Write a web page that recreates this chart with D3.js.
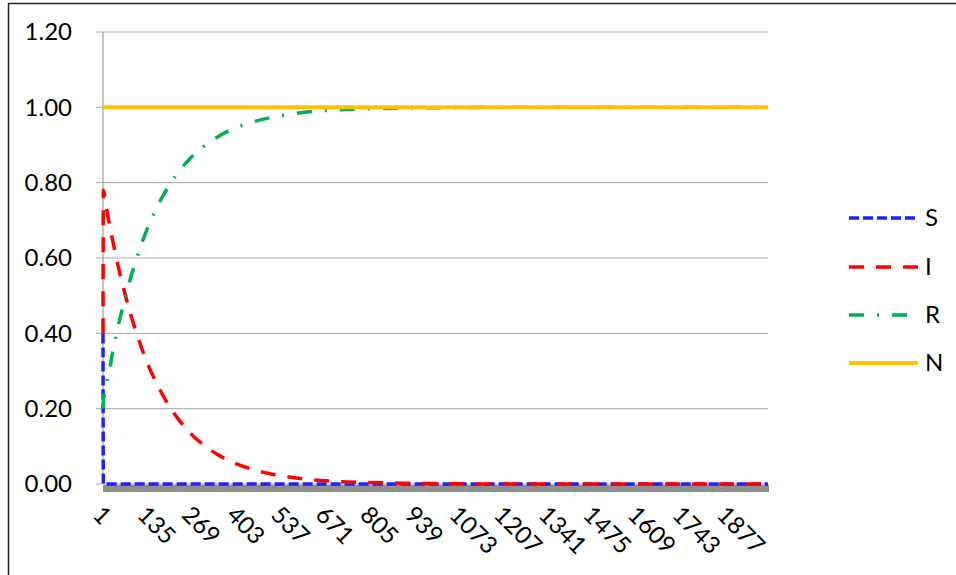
<!DOCTYPE html>
<html>
<head>
<meta charset="utf-8">
<script src="https://cdn.jsdelivr.net/npm/d3@7.9.0/dist/d3.min.js"></script>
<style>
  body { margin: 0; background: #fff; }
  svg text { font-family: Lato, "Open Sans", sans-serif; fill: #000; }
</style>
</head>
<body>
<svg width="956" height="575"></svg>
<script>
// time steps (category index)
const steps = [1, 2, 10, 20, 30, 40, 50, 60, 80, 100, 120, 140, 160, 180, 200, 225, 250, 275,
  300, 350, 400, 450, 500, 550, 600, 700, 800, 900, 1000, 1200, 1400, 1600, 1800, 2000];

const sVals = [0.40, 0.00, 0, 0, 0, 0, 0, 0, 0, 0, 0, 0, 0, 0, 0, 0, 0, 0,
  0, 0, 0, 0, 0, 0, 0, 0, 0, 0, 0, 0, 0, 0, 0, 0];
const iVals = [0.40, 0.78, 0.739, 0.691, 0.647, 0.605, 0.565, 0.529, 0.463, 0.405, 0.354, 0.309, 0.271, 0.237, 0.207, 0.175, 0.148, 0.125,
  0.106, 0.076, 0.054, 0.039, 0.028, 0.020, 0.014, 0.007, 0.004, 0.002, 0.001, 0, 0, 0, 0, 0];
const rVals = [0.20, 0.22, 0.261, 0.300, 0.350, 0.392, 0.432, 0.468, 0.535, 0.593, 0.645, 0.690, 0.729, 0.763, 0.793, 0.825, 0.852, 0.875,
  0.894, 0.924, 0.946, 0.961, 0.972, 0.980, 0.986, 0.993, 0.996, 0.998, 0.999, 1, 1, 1, 1, 1];
const nVals = [1, 1, 1, 1, 1, 1, 1, 1, 1, 1, 1, 1, 1, 1, 1, 1, 1, 1,
  1, 1, 1, 1, 1, 1, 1, 1, 1, 1, 1, 1, 1, 1, 1, 1];

const xTickLabels = [1, 135, 269, 403, 537, 671, 805, 939, 1073, 1207, 1341, 1475, 1609, 1743, 1877];
const yTicks = [0, 0.2, 0.4, 0.6, 0.8, 1.0, 1.2];

const seriesNames = ['S', 'I', 'R', 'N'];
const seriesData = [sVals, iVals, rVals, nVals];
const colors = ['#1f1fff', '#ff0000', '#00b050', '#ffc000'];
const dashes = ['10,4', '15,12', '15,13,2,13', null];

const svg = d3.select('svg');

// chart frame
svg.append('rect')
  .attr('x', 8.5).attr('y', 3.5)
  .attr('width', 1000).attr('height', 1000)
  .attr('fill', 'none').attr('stroke', '#222').attr('stroke-width', 1.5);

let x = d3.scaleLinear().domain([1, 2000]).range([103, 768]);
let y = d3.scaleLinear().domain([0, 1.2]).range([484, 32]);

// gridlines
svg.append('g')
  .selectAll('line')
  .data(yTicks)
  .join('line')
  .attr('x1', 96).attr('x2', 768)
  .attr('y1', d => y(d)).attr('y2', d => y(d))
  .attr('stroke', '#a6a6a6').attr('stroke-width', 1);

// y axis line
svg.append('line')
  .attr('x1', 103).attr('x2', 103)
  .attr('y1', y(1.2)).attr('y2', y(0))
  .attr('stroke', '#8c8c8c');

// floor
svg.append('rect')
  .attr('x', x(1)).attr('y', y(0) + 1)
  .attr('width', x(2000) - x(1) + 1).attr('height', 7)
  .attr('fill', '#8f8f8f');

// y labels
svg.append('g')
  .selectAll('text')
  .data(yTicks)
  .join('text')
  .attr('x', 72)
  .attr('y', d => y(d))
  .attr('dy', '0.35em')
  .attr('text-anchor', 'end')
  .style('font-size', '24px')
  .text(d => d3.format('.2f')(d));

// x labels, rotated
svg.append('g')
  .selectAll('text')
  .data(xTickLabels)
  .join('text')
  .attr('transform', d => `translate(${x(d)},516) rotate(45)`)
  .attr('dy', '0.35em')
  .attr('x', -8)
  .style('font-size', '24px')
  .text(d => d);

let line = d3.line()
  .x(d => x(d[0]))
  .y(d => y(d[1]))
  .curve(d3.curveMonotoneX);

seriesData.forEach((vals, idx) => {
  let pts = steps.map((s, i) => [s, vals[i]]);
  svg.append('path')
    .attr('d', line(pts))
    .attr('fill', 'none')
    .attr('stroke', colors[idx])
    .attr('stroke-width', idx === 3 ? 4 : 3.5)
    .attr('stroke-dasharray', dashes[idx]);
});

// legend
const legendY = [218, 267, 315, 363];
let legend = svg.append('g');
seriesNames.forEach((name, idx) => {
  legend.append('line')
    .attr('x1', 849).attr('x2', 918)
    .attr('y1', legendY[idx]).attr('y2', legendY[idx])
    .attr('stroke', colors[idx])
    .attr('stroke-width', idx === 3 ? 4 : 3.5)
    .attr('stroke-dasharray', dashes[idx]);
  legend.append('text')
    .attr('x', 925).attr('y', legendY[idx])
    .attr('dy', '0.35em')
    .style('font-size', '24px')
    .text(name);
});
</script>
</body>
</html>
